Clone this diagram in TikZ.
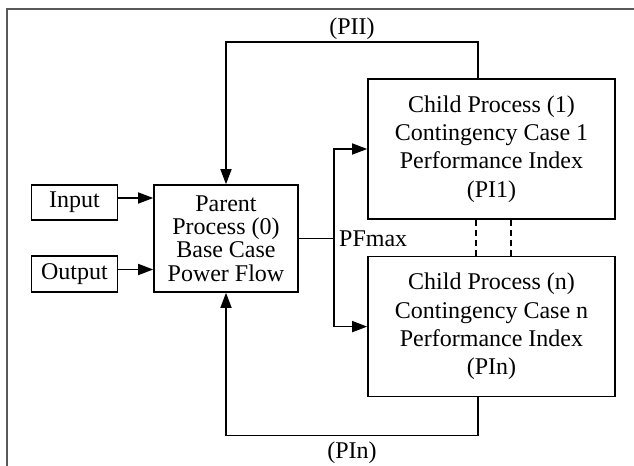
\documentclass[tikz,border=0pt]{standalone}
\usepackage{fontspec}
\setmainfont{Liberation Serif}
\usetikzlibrary{arrows.meta, positioning, calc}

\begin{document}
\begin{tikzpicture}[x=0.5pt, y=-0.5pt]
    \tikzset{
      block/.style={draw, line width=0.8pt, align=center, inner sep=0pt,
        font=\fontsize{12}{14.2}\selectfont},
      flow/.style={line width=0.8pt, -{Triangle[length=7.5pt, width=5.5pt]}},
      wire/.style={line width=0.8pt},
      tag/.style={inner sep=1pt, font=\fontsize{12}{14.2}\selectfont},
      child/.style={block, minimum width=123.5pt, minimum height=70pt}
    }

    \useasboundingbox (0,0) rectangle (634,466);
    \draw[black!65, line width=0.75pt] (7,466) -- (7,9) -- (634,9);

    \node[block, minimum width=72pt, minimum height=53.5pt,
      font=\fontsize{12}{11.7}\selectfont] (parent) at (226,238.5)
      {Parent\\Process (0)\\Base Case\\Power Flow};
    \node[block, minimum width=43pt, minimum height=17.5pt,
      below left=0pt and 17.5pt of parent.north west] (input) {Input};
    \node[block, minimum width=43pt, minimum height=18pt,
      above left=0pt and 17.5pt of parent.south west] (output) {Output};

    \node[child] (child1) at (491.5,149)
      {Child Process (1)\\Contingency Case 1\\Performance Index\\(PI1)};
    \node[child, below=18pt of child1] (child2)
      {Child Process (n)\\Contingency Case n\\Performance Index\\(PIn)};

    % inputs into the base case
    \draw[flow] ([yshift=2.25pt]input.east) -- ([yshift=2.25pt]input.east -| parent.west);
    \draw[flow] ([yshift=2.25pt]output.east) -- ([yshift=2.25pt]output.east -| parent.west);

    % branch out to the contingency cases
    \coordinate (split) at ($(parent.east)+(35,0)$);
    \draw[wire] (parent.east) -- (split);
    \draw[flow] (split) |- (child1.west);
    \draw[flow] (split) |- (child2.west);
    \node[tag, right=1.5pt of split] (pfmax) {PFmax};

    \draw[wire, dash pattern=on 3pt off 2pt] ([xshift=-7.75pt]child1.south) -- ([xshift=-7.75pt]child2.north);
    \draw[wire, dash pattern=on 3pt off 2pt] ([xshift=9.75pt]child1.south) -- ([xshift=9.75pt]child2.north);

    % feedback loops
    \coordinate (topR) at ($(child1.north)+(-13.5,-36)$);
    \coordinate (topL) at (parent.north |- topR);
    \draw[flow] ([xshift=-6.75pt]child1.north) -- (topR)
      -- node[tag, above] (pii) {(PII)} (topL) -- (parent.north);

    \coordinate (botR) at ($(child2.south)+(-13.5,38)$);
    \coordinate (botL) at (parent.south |- botR);
    \draw[flow] ([xshift=-6.75pt]child2.south) -- (botR)
      -- node[tag, below=2pt] (pin) {(PIn)} (botL) -- (parent.south);
\end{tikzpicture}
\end{document}
